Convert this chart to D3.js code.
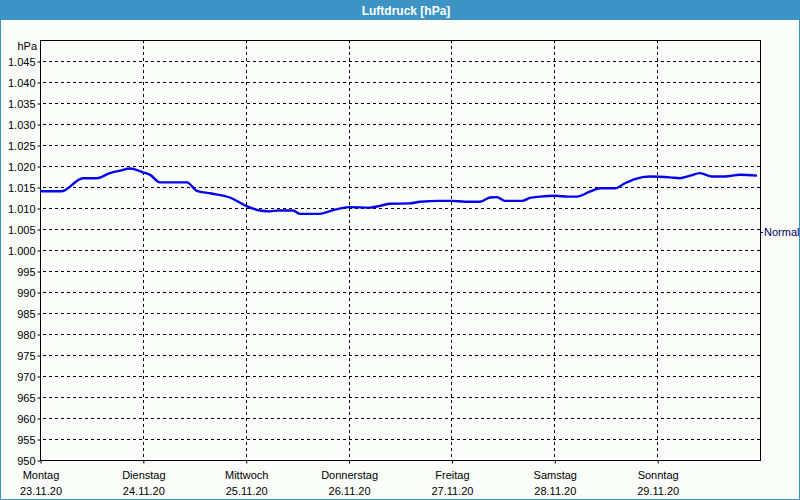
<!DOCTYPE html>
<html>
<head>
<meta charset="utf-8">
<script src="https://cdn.jsdelivr.net/npm/d3@7"></script>
<style>
  html, body { margin: 0; padding: 0; background: #fbfdfb; }
  svg { display: block; }
  text { font-family: "Liberation Sans", Arial, sans-serif; }
</style>
</head>
<body>
<svg id="chart" width="800" height="500"></svg>
<script>
// ---- Data ----
const title = "Luftdruck [hPa]";
const unitLabel = "hPa";
const dayNames = ["Montag", "Dienstag", "Mittwoch", "Donnerstag", "Freitag", "Samstag", "Sonntag"];
const dayDates = ["23.11.20", "24.11.20", "25.11.20", "26.11.20", "27.11.20", "28.11.20", "29.11.20"];
const yTicks = [950, 955, 960, 965, 970, 975, 980, 985, 990, 995, 1000, 1005, 1010, 1015, 1020, 1025, 1030, 1035, 1040, 1045];
// hours since Monday 23.11.20 00:00
const hours = [0, 5.1, 10, 13.3, 16.3, 18.7, 21, 24, 25.7, 28, 34.3, 36.6, 39.7, 44.3, 48.3, 51.3, 53.7, 55.5, 59, 60.7,
  64.9, 68.8, 72.1, 77, 79.3, 81.7, 86.3, 88.7, 93.3, 95.9, 99.2, 102.7, 105, 106.6, 108.5, 112.5, 114.3, 116.7, 120.2, 123.2,
  125.3, 128.3, 130.7, 134.2, 136.5, 138.8, 142.3, 147, 149.3, 151.7, 154, 156.8, 159.8, 163.3, 167.3];
const pressure = [1014.0, 1014.0, 1017.1, 1017.1, 1018.3, 1018.9, 1019.4, 1018.5, 1017.9, 1016.1, 1016.1, 1014.1, 1013.5, 1012.5, 1010.4, 1009.4, 1009.2, 1009.4, 1009.4, 1008.6,
  1008.6, 1009.6, 1010.2, 1010.1, 1010.5, 1011.0, 1011.1, 1011.5, 1011.7, 1011.7, 1011.5, 1011.5, 1012.5, 1012.6, 1011.7, 1011.7, 1012.4, 1012.7, 1012.9, 1012.7,
  1012.7, 1013.9, 1014.7, 1014.7, 1015.9, 1016.9, 1017.5, 1017.3, 1017.1, 1017.7, 1018.3, 1017.5, 1017.5, 1017.9, 1017.7];
const normalLabel = "Normal";
const normalValue = 1004.3;

// ---- Layout ----
const W = 800, H = 500;
const margin = { left: 40, right: 40, top: 40, bottom: 40 };
const svg = d3.select("#chart");

const x = d3.scaleLinear().domain([0, 24 * 7]).range([margin.left, W - margin.right]);
const y = d3.scaleLinear().domain([950, 1050]).range([H - margin.bottom, margin.top]);

const de = d3.formatLocale({ decimal: ",", thousands: ".", grouping: [3], currency: ["", " €"] });
const fmt = de.format(",d");

// background
svg.append("rect").attr("x", 0).attr("y", 0).attr("width", W).attr("height", H).attr("fill", "#fbfdfb");

// title bar
svg.append("rect").attr("x", 0).attr("y", 0).attr("width", W).attr("height", 20).attr("fill", "#3c93c4");
svg.append("text").attr("x", W / 2 + 6).attr("y", 14.5).attr("text-anchor", "middle")
  .attr("fill", "#ffffff").attr("font-weight", "bold").attr("font-size", 12).text(title);

// outer border
svg.append("path").attr("d", `M0.5,20 V${H - 0.5} H${W - 0.5} V20`).attr("fill", "none").attr("stroke", "#3c93c4").attr("stroke-width", 1);

// horizontal gridlines
const dash = "3,3";
svg.append("g").selectAll("line").data(yTicks.filter(d => d > 950)).join("line")
  .attr("x1", margin.left).attr("x2", W - margin.right)
  .attr("y1", d => Math.round(y(d)) + 0.5).attr("y2", d => Math.round(y(d)) + 0.5)
  .attr("stroke", "#000").attr("stroke-dasharray", dash).attr("stroke-dashoffset", -3);

// vertical gridlines
const dayIdx = d3.range(dayNames.length);
svg.append("g").selectAll("line").data(dayIdx.filter(i => i > 0)).join("line")
  .attr("x1", i => Math.round(x(i * 24)) + 0.5).attr("x2", i => Math.round(x(i * 24)) + 0.5)
  .attr("y1", margin.top).attr("y2", H - margin.bottom)
  .attr("stroke", "#000").attr("stroke-dasharray", dash);

// frame
svg.append("rect").attr("x", margin.left + 0.5).attr("y", margin.top + 0.5)
  .attr("width", W - margin.left - margin.right).attr("height", H - margin.top - margin.bottom)
  .attr("fill", "none").attr("stroke", "#000");

// y axis
const yAxis = d3.axisLeft(y).tickValues(yTicks).tickFormat(fmt).tickSize(3).tickPadding(2);
const gy = svg.append("g").attr("transform", `translate(${margin.left + 0.5},0.5)`).call(yAxis);
gy.select(".domain").remove();
gy.selectAll("text").attr("font-size", 11).attr("font-family", "Liberation Sans, Arial, sans-serif").attr("fill", "#000").attr("dy", "0.35em");
gy.selectAll("line").attr("stroke", "#000");

svg.append("text").attr("x", margin.left - 3).attr("y", y(1050) + 10).attr("text-anchor", "end")
  .attr("font-size", 11).attr("fill", "#000").text(unitLabel);

// x axis
const xAxis = d3.axisBottom(x).tickValues(dayIdx.map(i => i * 24)).tickFormat("").tickSize(3);
const gx = svg.append("g").attr("transform", `translate(0.5,${H - margin.bottom + 0.5})`).call(xAxis);
gx.select(".domain").remove();
gx.selectAll("line").attr("stroke", "#000");

const xl = svg.append("g").selectAll("g").data(dayIdx).join("g")
  .attr("transform", i => `translate(${x(i * 24) + 1},0)`);
xl.append("text").attr("y", 479).attr("text-anchor", "middle").attr("font-size", 11).attr("fill", "#000").text(i => dayNames[i]);
xl.append("text").attr("y", 495).attr("text-anchor", "middle").attr("font-size", 11).attr("fill", "#000").text(i => dayDates[i]);

// normal marker
svg.append("line").attr("x1", W - margin.right).attr("x2", W - margin.right + 3)
  .attr("y1", Math.round(y(normalValue)) + 0.5).attr("y2", Math.round(y(normalValue)) + 0.5)
  .attr("stroke", "#000080");
svg.append("text").attr("x", W - margin.right + 4).attr("y", y(normalValue)).attr("dy", "0.35em")
  .attr("font-size", 11).attr("fill", "#000060").text(normalLabel);

// pressure line
const pts = hours.map((h, i) => [h, pressure[i]]);
const line = d3.line().x(d => x(d[0])).y(d => y(d[1])).curve(d3.curveMonotoneX);
svg.append("path").datum(pts).attr("d", line)
  .attr("fill", "none").attr("stroke", "#0505e8").attr("stroke-width", 2.4).attr("stroke-linejoin", "round");
</script>
</body>
</html>
